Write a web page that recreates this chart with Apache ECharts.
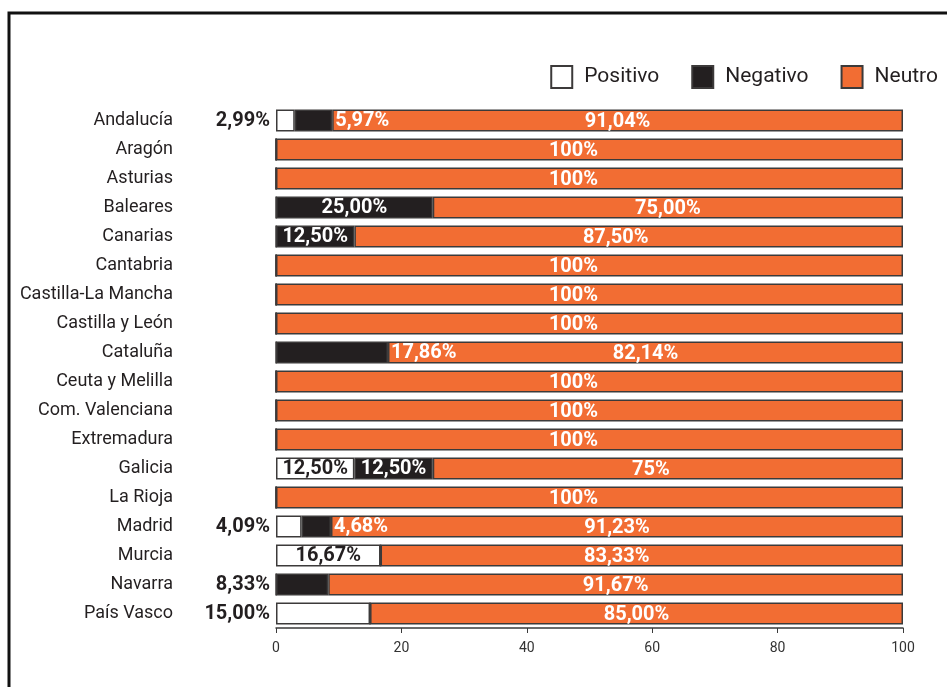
<!DOCTYPE html>
<html>
<head>
<meta charset="utf-8">
<script src="https://cdn.jsdelivr.net/npm/echarts@6/dist/echarts.min.js"></script>
<style>
  html, body { margin: 0; padding: 0; background: #fff; }
  #chart { width: 947px; height: 687px; }
</style>
</head>
<body>
<div id="chart"></div>
<script>
// datos por comunidad autónoma (porcentajes)
const categories = ['Andalucía', 'Aragón', 'Asturias', 'Baleares', 'Canarias', 'Cantabria',
  'Castilla-La Mancha', 'Castilla y León', 'Cataluña', 'Ceuta y Melilla', 'Com. Valenciana',
  'Extremadura', 'Galicia', 'La Rioja', 'Madrid', 'Murcia', 'Navarra', 'País Vasco'];
const positivo = [2.99, 0, 0, 0, 0, 0, 0, 0, 0, 0, 0, 0, 12.5, 0, 4.09, 16.67, 0, 15];
const negativo = [5.97, 0, 0, 25, 12.5, 0, 0, 0, 17.86, 0, 0, 0, 12.5, 0, 4.68, 0, 8.33, 0];
const neutro = [91.04, 100, 100, 75, 87.5, 100, 100, 100, 82.14, 100, 100, 100, 75, 100, 91.23, 83.33, 91.67, 85];

// textos de las etiquetas tal como aparecen
const posText = ['2,99%', '', '', '', '', '', '', '', '', '', '', '', '12,50%', '', '4,09%', '16,67%', '', '15,00%'];
const negText = ['5,97%', '', '', '25,00%', '12,50%', '', '', '', '17,86%', '', '', '', '12,50%', '', '4,68%', '', '8,33%', ''];
const neuText = ['91,04%', '100%', '100%', '75,00%', '87,50%', '100%', '100%', '100%', '82,14%', '100%',
  '100%', '100%', '75%', '100%', '91,23%', '83,33%', '91,67%', '85,00%'];
const xTicks = [0, 20, 40, 60, 80, 100];

// colocación de etiquetas (estilo, no datos)
const posPlace = { 0: 'left', 12: 'inside', 14: 'left', 15: 'inside', 17: 'left' };
const negPlace = { 0: 'right', 3: 'inside', 4: 'inside', 8: 'right', 12: 'inside', 14: 'right', 16: 'left' };
const neuShift = { 1: -16, 2: -16, 4: -13, 5: -16, 6: -16, 7: -16, 9: -16, 10: -16, 11: -16, 12: -17, 13: -16, 15: -25 };

const FONT = 'Roboto, "Noto Sans", sans-serif';
const DARK = '#231f20';
const ORANGE = '#f26d33';
const EDGE = '#3c3a3a';

function labelFor(place, text, onColor) {
  if (!place || !text) return { show: false };
  let color = '#fff';
  if (place === 'left') color = DARK;
  else if (place === 'inside') color = onColor;
  return {
    show: true,
    position: place,
    distance: place === 'left' ? 6 : 3,
    color: color,
    formatter: text
  };
}

const posData = positivo.map((v, i) => ({ value: v, label: labelFor(posPlace[i], posText[i], DARK) }));
const negData = negativo.map((v, i) => ({ value: v, label: labelFor(negPlace[i], negText[i], '#fff') }));
const neuData = neutro.map((v, i) => ({
  value: v,
  label: { show: true, position: 'inside', color: '#fff', formatter: neuText[i], offset: [neuShift[i] || 0, 1] }
}));

const labelBase = { fontFamily: FONT, fontWeight: 'bold', fontSize: 20 };

const myChart = echarts.init(document.getElementById('chart'));
myChart.setOption({
  animation: false,
  textStyle: { fontFamily: FONT },
  graphic: [{
    type: 'rect',
    shape: { x: 9, y: 13, width: 960, height: 700 },
    style: { fill: 'none', stroke: '#111', lineWidth: 3 },
    silent: true
  }],
  legend: {
    top: 60,
    right: 4,
    icon: 'rect',
    itemWidth: 21,
    itemHeight: 22,
    itemGap: 32,
    textStyle: { fontFamily: FONT, fontSize: 21, color: DARK, padding: [0, 0, 0, 7] },
    data: ['Positivo', 'Negativo', 'Neutro']
  },
  grid: { left: 276, right: 44, top: 106, bottom: 59, containLabel: false },
  xAxis: {
    type: 'value',
    min: 0,
    max: 100,
    interval: 20,
    splitLine: { show: false },
    axisLine: { show: true, lineStyle: { color: '#3a3a3a', width: 1.5 } },
    axisTick: { show: true, length: 5, lineStyle: { color: '#3a3a3a' } },
    axisLabel: {
      margin: 13,
      fontSize: 14,
      color: '#333',
      fontFamily: FONT,
      formatter: v => xTicks.includes(v) ? String(v) : ''
    }
  },
  yAxis: {
    type: 'category',
    inverse: true,
    data: categories,
    axisLine: { show: false },
    axisTick: { show: false },
    axisLabel: { margin: 103, fontSize: 18, color: DARK, fontFamily: FONT }
  },
  series: [
    {
      name: 'Positivo', type: 'bar', stack: 'total', barWidth: 22, z: 3,
      itemStyle: { color: '#fff', borderColor: EDGE, borderWidth: 1.5 },
      label: labelBase,
      data: posData
    },
    {
      name: 'Negativo', type: 'bar', stack: 'total', barWidth: 22, z: 3,
      itemStyle: { color: DARK, borderColor: EDGE, borderWidth: 1.5 },
      label: labelBase,
      data: negData
    },
    {
      name: 'Neutro', type: 'bar', stack: 'total', barWidth: 22, z: 2,
      itemStyle: { color: ORANGE, borderColor: EDGE, borderWidth: 1.5 },
      label: labelBase,
      data: neuData
    }
  ]
});
</script>
</body>
</html>
